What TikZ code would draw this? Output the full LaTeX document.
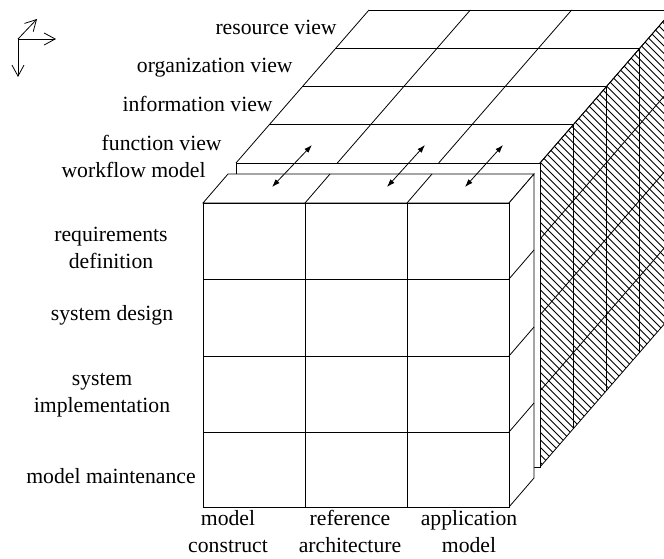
\documentclass[tikz,border=0pt]{standalone}
\usepackage{fontspec}
\setmainfont{Liberation Serif}
\usetikzlibrary{arrows.meta}
\begin{document}
\begin{tikzpicture}[x=1pt,y=-1pt,line width=0.8pt,line join=miter,
  lbl/.style={font=\fontsize{21.7}{26.5}\selectfont,inner sep=0pt,align=center},
  hatchline/.style={line width=0.75pt},
  face/.style={draw,fill=white},
  dbl/.style={{Latex[length=8pt,width=5.5pt]}-{Latex[length=8pt,width=5.5pt]},line width=0.8pt},
  axisarrow/.style={-{Straight Barb[length=11pt,width=12pt]},line width=0.8pt}]
\useasboundingbox (0,0) rectangle (664,559);
\begin{scope}
\clip (0,0) rectangle (664,559);
% ---- big cube: top face (views)
\foreach \k in {0,...,4}
  \draw ({236+33.25*\k},{163-38.25*\k}) -- ({540+33.25*\k},{163-38.25*\k});
\foreach \j in {0,...,3}
  \draw ({236+101.333*\j},163) -- ++(133,-153);
% ---- big cube: right face (hatched)
\begin{scope}
  \clip (540,163) -- (673,10) -- (673,314) -- (540,467) -- cycle;
  \foreach \c in {-663,-655.5,...,-60}
    \draw[hatchline] (500,{500+\c}) -- (720,{720+\c});
\end{scope}
\foreach \k in {0,...,4}
  \draw ({540+33.25*\k},{163-38.25*\k}) -- ++(0,304);
\foreach \i in {0,...,4}
  \draw (540,{163+76*\i}) -- ++(133,-153);
% ---- big cube: front face
\draw[face] (236,163) rectangle (540,467);
% ---- workflow model slab
\draw[face] (203,203) -- (509,203) -- (534,174) -- (228,174) -- cycle;
\draw[face] (509,203) -- (534,174) -- (534,478) -- (509,507) -- cycle;
\draw[face] (203,203) rectangle (509,507);
\foreach \x in {305,407} {
  \draw (\x,203) -- (\x,507);
  \draw (\x,203) -- ++(25,-29);
}
\foreach \y in {279,356,432} {
  \draw (203,\y) -- (509,\y);
  \draw (509,\y) -- ++(25,-29);
}
\end{scope}
% ---- double arrows
\coordinate (a1s) at (272,187); \coordinate (a1e) at (312,145);
\coordinate (a2s) at (387,187); \coordinate (a2e) at (425,145);
\coordinate (a3s) at (465,187); \coordinate (a3e) at (503,145);
\draw[dbl] (a1s) -- (a1e);
\draw[dbl] (a2s) -- (a2e);
\draw[dbl] (a3s) -- (a3e);
% ---- view labels
\node[lbl,anchor=base east] (rv) at (337,35) {resource view};
\node[lbl,anchor=base east] (ov) at (293,73) {organization view};
\node[lbl,anchor=base east] (iv) at (273,112) {information view};
\node[lbl,anchor=base east] (fv) at (222,150) {function view};
\node[lbl,anchor=base east] (wm) at (206,178) {workflow model};
% ---- phase labels
\node[lbl,anchor=base] (rd) at (111,268) {requirements\\definition};
\node[lbl,anchor=base] (sd) at (112,320) {system design};
\node[lbl,anchor=base] (si) at (102,412) {system\\implementation};
\node[lbl,anchor=base] (mm) at (111,483) {model maintenance};
% ---- genericity labels
\node[lbl,anchor=base] (mc) at (228,552) {model\\construct};
\node[lbl,anchor=base] (ra) at (350,552) {reference\\architecture};
\node[lbl,anchor=base] (am) at (469,552) {application\\model};
% ---- axis symbol
\coordinate (o) at (18,39);
\coordinate (ax) at (56,39);
\coordinate (ay) at (18,77);
\coordinate (az) at (37,19);
\draw[axisarrow] (o) -- (ax);
\draw[axisarrow] (o) -- (ay);
\draw[axisarrow] (o) -- (az);
\end{tikzpicture}
\end{document}
